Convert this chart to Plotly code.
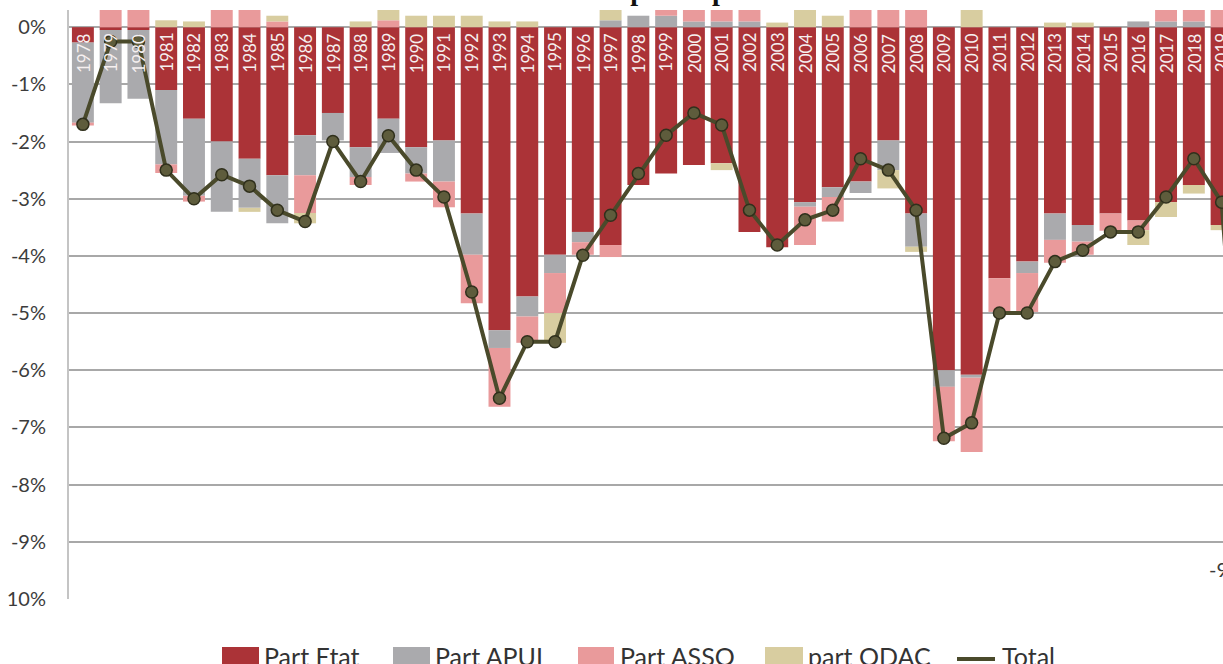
import plotly.graph_objects as go

# Années et contributions au solde public (en % du PIB)
years = list(range(1978, 2020))
years_total = list(range(1978, 2021))

part_etat = [-0.27, -0.05, -0.05, -1.10, -1.60, -2.00, -2.30, -2.59, -1.89, -1.50,
             -2.10, -1.60, -2.10, -1.98, -3.26, -5.30, -4.71, -3.98, -3.58, -3.81,
             -2.76, -2.56, -2.41, -2.38, -3.58, -3.85, -3.06, -2.80, -2.70, -1.98,
             -3.26, -6.00, -6.08, -4.39, -4.10, -3.26, -3.46, -3.26, -3.38, -3.06,
             -2.76, -3.46]
part_apul = [-1.40, -1.28, -1.20, -1.30, -1.35, -1.23, -0.86, -0.84, -0.70, -0.48,
             -0.52, -0.60, -0.46, -0.72, -0.72, -0.31, -0.35, -0.32, -0.18, 0.12,
             0.20, 0.20, 0.10, 0.10, 0.10, 0.00, -0.08, -0.17, -0.20, -0.52,
             -0.58, -0.29, -0.05, 0.00, -0.20, -0.46, -0.29, 0.00, 0.10, 0.10,
             0.10, 0.00]
part_asso = [-0.05, 1.08, 1.05, -0.15, -0.10, 0.67, 0.43, 0.10, -0.66, 0.00,
             -0.14, 0.12, -0.14, -0.45, -0.85, -1.03, -0.46, -0.70, -0.22, -0.21,
             0.00, 0.47, 0.81, 0.69, 0.28, 0.00, -0.67, -0.43, 0.60, 0.32,
             0.73, -0.95, -1.30, -0.59, -0.68, -0.40, -0.23, -0.30, -0.17, 0.25,
             0.54, 0.49]
part_odac = [0.00, 0.00, 0.00, 0.12, 0.10, 0.00, -0.07, 0.10, -0.18, 0.00,
             0.10, 0.20, 0.20, 0.20, 0.20, 0.10, 0.10, -0.52, 0.00, 0.60,
             0.00, 0.00, 0.00, -0.12, 0.00, 0.08, 0.44, 0.20, 0.00, -0.32,
             -0.09, 0.00, 0.50, 0.00, 0.00, 0.08, 0.08, 0.00, -0.26, -0.26,
             -0.15, -0.09]
total = [-1.70, -0.25, -0.25, -2.50, -3.00, -2.58, -2.78, -3.20, -3.40, -2.00,
         -2.70, -1.90, -2.50, -2.97, -4.63, -6.49, -5.50, -5.50, -3.99, -3.29,
         -2.56, -1.89, -1.50, -1.71, -3.20, -3.81, -3.37, -3.20, -2.30, -2.50,
         -3.20, -7.19, -6.92, -5.00, -5.00, -4.10, -3.90, -3.58, -3.58, -2.97,
         -2.30, -3.06, -9.40]

series_names = ["Part Etat", "Part APUL", "Part ASSO", "part ODAC"]
series_colors = ["#AB3337", "#AAAAAD", "#E99A9B", "#D8CDA0"]
series_values = [part_etat, part_apul, part_asso, part_odac]
total_name = "Total"
total_color = "#4A4A2B"

y_ticks = list(range(0, -11, -1))
y_ticktext = ["0%", "-1%", "-2%", "-3%", "-4%", "-5%", "-6%", "-7%", "-8%", "-9%", "10%"]

title_text = "Déficit public par sous-secteur"

TXT = "Lato, 'Open Sans', sans-serif"

W, L = 1223, 69
PT, PB = 10, 599
X_RANGE = [1977.5, 2019.05]


def px_x(px):
    return (px - L) / (W - L)


def px_y(py):
    return (PB - py) / (PB - PT)


def year_to_paper(yr):
    return (yr - X_RANGE[0]) / (X_RANGE[1] - X_RANGE[0])


fig = go.Figure()
for name, col, vals in zip(series_names, series_colors, series_values):
    fig.add_trace(go.Bar(x=years, y=vals, name=name, marker_color=col,
                         marker_line_width=0, showlegend=False))

fig.add_trace(go.Scatter(
    x=years_total, y=total, name=total_name, mode="lines+markers",
    line=dict(color=total_color, width=4),
    marker=dict(size=12, color="#5E5C3C", line=dict(color="#30301C", width=1.5)),
    cliponaxis=False, showlegend=False))

annotations = []
# Étiquette de valeur de la dernière année, à gauche du point
annotations.append(dict(x=year_to_paper(years_total[-1]), y=total[-1], xref="paper", yref="y",
                        text=f"{total[-1]:.0f}%", showarrow=False,
                        xanchor="left", xshift=-42, yshift=-4,
                        font=dict(family=TXT, size=20, color="#3A3A3A")))

# Millésimes écrits verticalement en haut des barres
for yr in years:
    annotations.append(dict(x=yr, y=0, xref="x", yref="y", text=str(yr),
                            textangle=-90, showarrow=False, yanchor="top",
                            yshift=-4, font=dict(family=TXT, size=17, color="#F6F0F0")))

# Légende dessinée sous le graphique
shapes = []
legend_x = [(222, 259, 262), (393, 430, 433), (578, 614, 618), (765, 803, 806)]
for (x0, x1, xt), name, col in zip(legend_x, series_names, series_colors):
    shapes.append(dict(type="rect", xref="paper", yref="paper",
                       x0=px_x(x0), x1=px_x(x1), y0=px_y(647), y1=px_y(700),
                       fillcolor=col, line_width=0))
    annotations.append(dict(x=px_x(xt), y=px_y(639), xref="paper", yref="paper",
                            text=name, showarrow=False, xanchor="left", yanchor="top",
                            font=dict(family=TXT, size=25, color="#333333")))
shapes.append(dict(type="line", xref="paper", yref="paper",
                   x0=px_x(957), x1=px_x(995), y0=px_y(659), y1=px_y(659),
                   line=dict(color=total_color, width=4)))
annotations.append(dict(x=px_x(1000), y=px_y(639), xref="paper", yref="paper",
                        text=total_name, showarrow=False, xanchor="left", yanchor="top",
                        font=dict(family=TXT, size=25, color="#333333")))
fig.add_trace(go.Scatter(x=[px_x(976)], y=[px_y(659)], xaxis="x2", yaxis="y2",
                         mode="markers", showlegend=False, hoverinfo="skip",
                         marker=dict(size=12, color="#5E5C3C",
                                     line=dict(color="#30301C", width=1.5)),
                         cliponaxis=False))

annotations.append(dict(x=px_x(725), y=px_y(8), xref="paper", yref="paper",
                        text=f"<b>{title_text}</b>", showarrow=False, yanchor="bottom",
                        font=dict(family="'Liberation Serif', 'Times New Roman', serif",
                                  size=28, color="#111111")))

fig.update_layout(
    width=W, height=664,
    margin=dict(l=L, r=0, t=PT, b=664 - PB, autoexpand=False, pad=0),
    paper_bgcolor="white", plot_bgcolor="white",
    barmode="relative", bargap=0.21,
    showlegend=False,
    xaxis=dict(range=X_RANGE, showticklabels=False, showgrid=False,
               zeroline=False, ticks=""),
    yaxis=dict(range=[-10, 0.3], tickvals=y_ticks, ticktext=y_ticktext,
               showgrid=True, gridcolor="#A8A8A8", gridwidth=2, zeroline=False,
               showline=True, linecolor="#C4C4C4", linewidth=2,
               ticks="", ticklabelstandoff=17,
               tickfont=dict(family=TXT, size=20, color="#3C3C3C")),
    xaxis2=dict(range=[0, 1], overlaying="x", visible=False, domain=[0, 1]),
    yaxis2=dict(range=[0, 1], overlaying="y", visible=False),
    annotations=annotations,
    shapes=shapes,
)

fig.write_html("out.html")
